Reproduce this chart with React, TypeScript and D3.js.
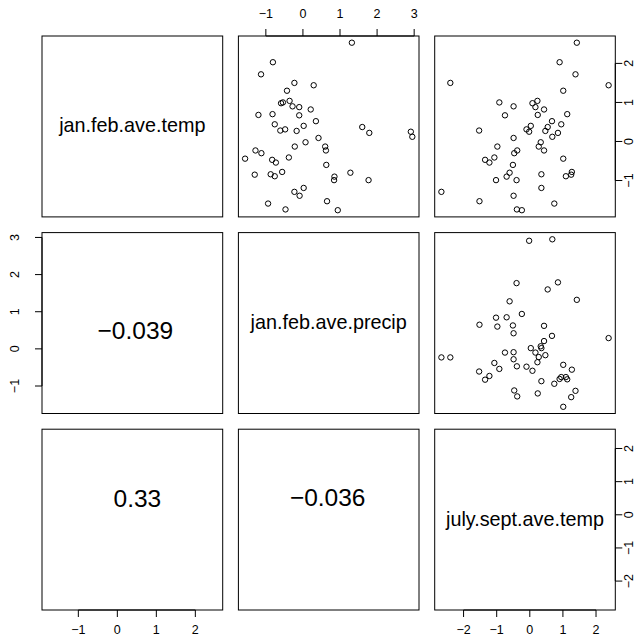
import React from "react";
import * as d3 from "d3";

const varNames = ["jan.feb.ave.temp", "jan.feb.ave.precip", "july.sept.ave.temp"];

const janFebAveTemp = [2.53, 2.03, 1.72, 1.50, 1.44, 1.30, 1.04, 1.00, 0.98, 0.90, 0.88, 0.82, 0.70, 0.68, 0.67, 0.52, 0.44, 0.40, 0.37, 0.31, 0.28, 0.27, 0.25, 0.22, 0.12, 0.09, -0.02, -0.13, -0.13, -0.23, -0.23, -0.30, -0.41, -0.44, -0.47, -0.54, -0.60, -0.78, -0.80, -0.84, -0.85, -0.89, -0.90, -0.99, -0.99, -1.19, -1.29, -1.39, -1.53, -1.59, -1.74, -1.76];
const janFebAvePrecip = [1.32, -0.81, -1.13, -0.23, 0.29, -0.43, -0.36, -0.54, -0.59, -0.28, -0.10, 0.21, -0.82, -1.20, -0.10, 0.35, -0.76, 0.02, 1.60, -0.48, -0.61, -0.17, 2.91, 1.79, 2.95, 0.42, 0.07, -0.22, 0.60, 0.62, -1.28, -1.12, -0.38, -1.56, -0.83, -0.73, 0.63, -0.56, 1.28, -0.87, -1.30, -0.76, 0.85, 0.84, 1.77, 0.02, -0.23, -0.09, 0.65, -0.94, -0.47, 0.94];
const julySeptAveTemp = [1.42, 0.90, 1.38, -2.40, 2.38, 1.01, 0.23, -0.92, 0.08, -0.49, 0.17, 0.43, 1.13, 0.24, -0.75, 0.67, 0.95, 0.03, 0.54, -0.10, -1.53, 0.47, -0.02, 0.85, 0.68, -0.49, 0.33, 0.27, -0.98, 0.43, -0.38, -0.47, -1.07, 1.01, -1.35, -1.22, -0.51, 1.27, -0.61, 0.35, 1.25, 1.09, -0.70, -1.02, -0.40, 0.35, -2.67, -0.49, -1.52, 0.74, -0.39, -0.24];

const tempTicks = [-1, 0, 1, 2];
const precipTicks = [-1, 0, 1, 2, 3];
const julyTicks = [-2, -1, 0, 1, 2];

// lower-triangle correlation labels: [row, col, text]
const corrLabels: [number, number, string][] = [
  [1, 0, "\u22120.039"],
  [2, 0, "0.33"],
  [2, 1, "\u22120.036"],
];

const W = 641;
const H = 644;
const colX: [number, number][] = [[42, 222.7], [238.4, 419], [434.7, 615.3]];
const rowY: [number, number][] = [[36, 216.9], [232.6, 413.5], [429.2, 610]];
const corrPos = [
  { dx: 3, y: 330 },
  { dx: 5, y: 498 },
  { dx: -1, y: 497 },
];

const FONT = "'Liberation Sans', Arial, Helvetica, sans-serif";
const fmt = (v: number) => String(v).replace("-", "\u2212");

export default function App() {
  const vars = [janFebAveTemp, janFebAvePrecip, julySeptAveTemp];
  const ticks = [tempTicks, precipTicks, julyTicks];
  const domains = vars.map((v) => {
    const [mn, mx] = d3.extent(v) as [number, number];
    const r = mx - mn;
    return [mn - 0.04 * r, mx + 0.04 * r];
  });
  const xScales = domains.map((d, i) => d3.scaleLinear().domain(d).range(colX[i]));
  const yScales = domains.map((d, i) => d3.scaleLinear().domain(d).range([rowY[i][1], rowY[i][0]]));

  const panels: React.ReactNode[] = [];
  for (let r = 0; r < 3; r++) {
    for (let c = 0; c < 3; c++) {
      const [x0, x1] = colX[c];
      const [y0, y1] = rowY[r];
      panels.push(
        <rect key={`b${r}${c}`} x={x0} y={y0} width={x1 - x0} height={y1 - y0} fill="none" stroke="#000" strokeWidth={1} />
      );
      if (r === c) {
        panels.push(
          <text key={`l${r}`} x={(x0 + x1) / 2} y={(y0 + y1) / 2 - 1} textAnchor="middle" dominantBaseline="central" fontSize={19.8} fontFamily={FONT} fill="#000">
            {varNames[r]}
          </text>
        );
      } else if (c > r) {
        const xs = xScales[c];
        const ys = yScales[r];
        vars[c].forEach((v, i) => {
          panels.push(
            <circle key={`p${r}${c}-${i}`} cx={xs(v)} cy={ys(vars[r][i])} r={2.7} fill="none" stroke="#000" strokeWidth={1} />
          );
        });
      }
    }
  }

  corrLabels.forEach(([r, c, t], i) => {
    const [x0, x1] = colX[c];
    panels.push(
      <text key={`c${i}`} x={(x0 + x1) / 2 + corrPos[i].dx} y={corrPos[i].y} textAnchor="middle" dominantBaseline="central" fontSize={24.5} fontFamily={FONT} fill="#000">
        {t}
      </text>
    );
  });

  const axes: React.ReactNode[] = [];
  const TL = 7;
  // bottom axes: col 0 and col 2
  [0, 2].forEach((c) => {
    const s = xScales[c];
    const yb = rowY[2][1];
    const tk = ticks[c];
    axes.push(<line key={`ba${c}`} x1={s(tk[0])} x2={s(tk[tk.length - 1])} y1={yb} y2={yb} stroke="#000" />);
    tk.forEach((t) => {
      axes.push(<line key={`bt${c}${t}`} x1={s(t)} x2={s(t)} y1={yb} y2={yb + TL} stroke="#000" />);
      axes.push(
        <text key={`bl${c}${t}`} x={s(t)} y={630} textAnchor="middle" dominantBaseline="central" fontSize={12.5} fontFamily={FONT}>
          {fmt(t)}
        </text>
      );
    });
  });
  // top axis: col 1
  {
    const c = 1;
    const s = xScales[c];
    const yt = rowY[0][0];
    const tk = ticks[c];
    axes.push(<line key="ta" x1={s(tk[0])} x2={s(tk[tk.length - 1])} y1={yt} y2={yt} stroke="#000" />);
    tk.forEach((t) => {
      axes.push(<line key={`tt${t}`} x1={s(t)} x2={s(t)} y1={yt} y2={yt - TL} stroke="#000" />);
      axes.push(
        <text key={`tl${t}`} x={s(t)} y={14} textAnchor="middle" dominantBaseline="central" fontSize={12.5} fontFamily={FONT}>
          {fmt(t)}
        </text>
      );
    });
  }
  // left axis: row 1
  {
    const r = 1;
    const s = yScales[r];
    const xl = colX[0][0];
    const tk = ticks[r];
    axes.push(<line key="la" x1={xl} x2={xl} y1={s(tk[0])} y2={s(tk[tk.length - 1])} stroke="#000" />);
    tk.forEach((t) => {
      axes.push(<line key={`lt${t}`} x1={xl} x2={xl - TL} y1={s(t)} y2={s(t)} stroke="#000" />);
      axes.push(
        <text key={`ll${t}`} transform={`translate(15,${s(t)}) rotate(-90)`} textAnchor="middle" dominantBaseline="central" fontSize={12.5} fontFamily={FONT}>
          {fmt(t)}
        </text>
      );
    });
  }
  // right axes: rows 0 and 2
  [0, 2].forEach((r) => {
    const s = yScales[r];
    const xr = colX[2][1];
    const tk = ticks[r];
    axes.push(<line key={`ra${r}`} x1={xr} x2={xr} y1={s(tk[0])} y2={s(tk[tk.length - 1])} stroke="#000" />);
    tk.forEach((t) => {
      axes.push(<line key={`rt${r}${t}`} x1={xr} x2={xr + TL} y1={s(t)} y2={s(t)} stroke="#000" />);
      axes.push(
        <text key={`rl${r}${t}`} transform={`translate(629,${s(t)}) rotate(-90)`} textAnchor="middle" dominantBaseline="central" fontSize={12.5} fontFamily={FONT}>
          {fmt(t)}
        </text>
      );
    });
  });

  return (
    <svg width={W} height={H} style={{ position: "absolute", left: 0, top: 0, background: "#fff" }}>
      <rect x={0} y={0} width={W} height={H} fill="#fff" />
      {panels}
      {axes}
    </svg>
  );
}
